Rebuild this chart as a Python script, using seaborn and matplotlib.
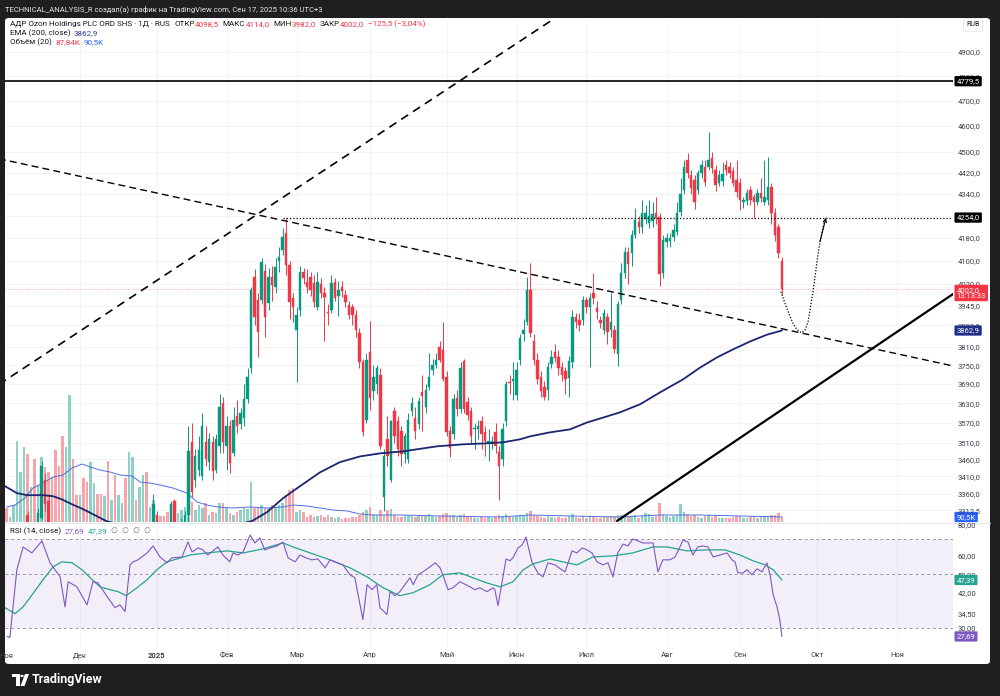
import numpy as np
import matplotlib
matplotlib.use("Agg")
import matplotlib.pyplot as plt
import seaborn as sns
from matplotlib.patches import FancyBboxPatch, Rectangle, Circle, Polygon
from matplotlib.lines import Line2D
from matplotlib.transforms import blended_transform_factory
from matplotlib.ticker import NullLocator

sns.set_style("white")
plt.rcParams['font.family'] = ['Roboto', 'DejaVu Sans']

# ---- daily bars, index 0 = 1 Nov 2024, last = 17 Sep 2025 ----
opens = [2950, 2900, 2920, 3040, 3120, 3180, 3300, 3230, 3250, 3250,
         3290, 3400, 3340, 3230, 3180, 3120, 3080, 3000, 3060, 3100,
         3040, 3000, 3040, 2990, 2960, 3050, 3060, 3040, 3020, 3030,
         2990, 3000, 2960, 2975, 2980, 2950, 3100, 3130, 3120, 3150,
         3180, 3170, 3200, 3300, 3250, 3220, 3200, 3180, 3340, 3260,
         3270, 3280, 3300, 3511, 3399, 3428, 3411, 3511, 3451, 3511,
         3430, 3499, 3630, 3500, 3560, 3480, 3590, 3565, 3586, 3642,
         3742, 4045, 3966, 3966, 4065, 3956, 4045, 4010, 4100, 4139,
         4199, 4086, 3973, 3866, 3932, 4062, 4027, 4045, 4024, 3942,
         4020, 3990, 3925, 3930, 4027, 3980, 4010, 3983, 3949, 3940,
         3916, 3856, 3760, 3580, 3794, 3667, 3690, 3720, 3350, 3520,
         3400, 3605, 3574, 3544, 3475, 3460, 3605, 3586, 3565, 3664,
         3617, 3680, 3736, 3752, 3810, 3800, 3714, 3545, 3535, 3648,
         3611, 3764, 3633, 3605, 3550, 3550, 3574, 3541, 3508, 3505,
         3541, 3481, 3460, 3574, 3698, 3700, 3655, 3768, 3850, 3892,
         4000, 3830, 3768, 3714, 3680, 3673, 3755, 3794, 3778, 3745,
         3730, 3710, 3760, 3909, 3899, 3899, 3966, 3940, 3990, 3939,
         3899, 3866, 3906, 3866, 3866, 3785, 3966, 4058, 4131, 4128,
         4192, 4238, 4220, 4250, 4235, 4240, 4271, 4257, 4058, 4167,
         4170, 4185, 4203, 4275, 4355, 4468, 4411, 4392, 4355, 4419,
         4442, 4442, 4476, 4430, 4380, 4390, 4449, 4440, 4426, 4392,
         4380, 4310, 4315, 4355, 4328, 4311, 4345, 4310, 4318, 4367,
         4271, 4220, 4098.5]
highs = [2960, 2935, 3050, 3130, 3190, 3270, 3310, 3260, 3265, 3320,
         3455, 3420, 3360, 3245, 3190, 3135, 3090, 3070, 3120, 3110,
         3050, 3050, 3045, 3000, 3060, 3075, 3065, 3050, 3040, 3035,
         3010, 3005, 2985, 2990, 2985, 3110, 3140, 3135, 3160, 3190,
         3190, 3210, 3360, 3310, 3260, 3230, 3210, 3340, 3345, 3280,
         3290, 3310, 3560, 3570, 3490, 3530, 3600, 3560, 3540, 3530,
         3535, 3660, 3650, 3590, 3580, 3620, 3640, 3615, 3690, 3740,
         4010, 4070, 3990, 4110, 4090, 4075, 4080, 4110, 4150, 4215,
         4254, 4100, 3990, 3940, 4080, 4075, 4070, 4060, 4050, 4060,
         4040, 4010, 3950, 4050, 4040, 4030, 4030, 4000, 3960, 3950,
         3930, 3870, 3770, 3790, 3895, 3750, 3750, 3740, 3490, 3590,
         3580, 3620, 3590, 3560, 3540, 3600, 3650, 3620, 3650, 3720,
         3690, 3790, 3770, 3790, 3830, 3890, 3730, 3560, 3660, 3670,
         3760, 3770, 3650, 3620, 3570, 3580, 3590, 3560, 3550, 3530,
         3570, 3500, 3570, 3700, 3720, 3760, 3760, 3850, 3900, 4045,
         4092, 3850, 3790, 3730, 3700, 3760, 3800, 3820, 3800, 3760,
         3745, 3780, 3930, 3920, 3920, 3980, 3975, 3990, 4058, 3960,
         3910, 3935, 3920, 3990, 3880, 3960, 4092, 4150, 4150, 4210,
         4289, 4260, 4318, 4300, 4320, 4310, 4330, 4270, 4190, 4200,
         4200, 4230, 4310, 4400, 4468, 4495, 4430, 4410, 4430, 4470,
         4470, 4575, 4500, 4450, 4430, 4460, 4470, 4460, 4440, 4468,
         4400, 4330, 4360, 4370, 4340, 4360, 4400, 4468, 4480, 4380,
         4290, 4230, 4114]
lows = [2880, 2880, 2910, 3030, 3100, 3170, 3220, 3200, 3220, 3240,
        3285, 3310, 3220, 3170, 3110, 3070, 2990, 2990, 3040, 3030,
        2990, 2990, 2980, 2950, 2955, 3040, 3030, 3010, 3010, 2980,
        2980, 2950, 2950, 2965, 2940, 2945, 3090, 3110, 3110, 3140,
        3160, 3160, 3195, 3240, 3210, 3190, 3170, 3175, 3250, 3250,
        3260, 3270, 3280, 3350, 3380, 3410, 3400, 3440, 3430, 3400,
        3420, 3480, 3480, 3430, 3420, 3470, 3540, 3550, 3560, 3630,
        3725, 3880, 3778, 3950, 3843, 3930, 3960, 3990, 4060, 4120,
        4050, 3900, 3890, 3698, 3910, 4020, 3990, 3980, 3940, 3930,
        3970, 3830, 3880, 3920, 3960, 3910, 3975, 3940, 3900, 3880,
        3840, 3740, 3530, 3570, 3610, 3640, 3660, 3490, 3311, 3440,
        3395, 3510, 3470, 3440, 3450, 3450, 3590, 3520, 3550, 3544,
        3600, 3670, 3720, 3740, 3760, 3700, 3530, 3466, 3520, 3590,
        3600, 3600, 3580, 3510, 3490, 3520, 3490, 3470, 3455, 3490,
        3480, 3341, 3440, 3560, 3660, 3640, 3640, 3750, 3830, 3880,
        3840, 3750, 3690, 3650, 3640, 3640, 3740, 3760, 3720, 3700,
        3660, 3650, 3740, 3870, 3860, 3880, 3920, 3745, 3950, 3900,
        3870, 3850, 3820, 3840, 3790, 3746, 3950, 4040, 4020, 4080,
        4180, 4200, 4200, 4230, 4215, 4220, 4230, 4012, 4040, 4150,
        4150, 4170, 4190, 4260, 4340, 4400, 4340, 4285, 4340, 4400,
        4370, 4430, 4420, 4350, 4370, 4370, 4410, 4400, 4370, 4330,
        4282, 4290, 4300, 4300, 4254, 4300, 4310, 4300, 4300, 4230,
        4170, 4110, 3982]
closes = [2900, 2920, 3040, 3120, 3180, 3260, 3230, 3250, 3240, 3305,
          3440, 3330, 3230, 3180, 3120, 3080, 3000, 3060, 3100, 3040,
          3000, 3040, 2990, 2960, 3050, 3060, 3040, 3020, 3030, 2990,
          3000, 2960, 2975, 2980, 2950, 3100, 3130, 3120, 3150, 3180,
          3170, 3200, 3330, 3250, 3220, 3200, 3180, 3330, 3260, 3270,
          3280, 3300, 3484, 3364, 3469, 3487, 3559, 3460, 3520, 3425,
          3520, 3620, 3511, 3560, 3450, 3580, 3560, 3600, 3642, 3714,
          4000, 3909, 3859, 4096, 3909, 4045, 4017, 4079, 4112, 4185,
          4086, 3959, 3942, 3916, 4062, 4040, 4010, 4000, 3959, 4027,
          3990, 3975, 3920, 4024, 3973, 4000, 3995, 3959, 3916, 3916,
          3866, 3760, 3541, 3768, 3648, 3714, 3740, 3500, 3470, 3470,
          3574, 3529, 3490, 3475, 3529, 3580, 3630, 3544, 3636, 3652,
          3673, 3714, 3752, 3768, 3768, 3705, 3541, 3495, 3642, 3611,
          3740, 3611, 3595, 3529, 3555, 3560, 3535, 3514, 3514, 3515,
          3500, 3440, 3550, 3689, 3692, 3705, 3736, 3839, 3866, 4000,
          3856, 3768, 3705, 3667, 3650, 3745, 3778, 3774, 3742, 3720,
          3705, 3762, 3909, 3892, 3882, 3966, 3942, 3973, 3970, 3926,
          3889, 3922, 3859, 3892, 3801, 3952, 4058, 4131, 4089, 4192,
          4246, 4220, 4271, 4271, 4260, 4268, 4253, 4054, 4174, 4182,
          4181, 4210, 4271, 4340, 4441, 4418, 4361, 4311, 4419, 4450,
          4386, 4468, 4438, 4373, 4411, 4415, 4430, 4420, 4383, 4348,
          4318, 4318, 4345, 4318, 4311, 4345, 4327, 4330, 4367, 4271,
          4192, 4128, 4002]
volumes_k = [250, 90, 300, 1460, 900, 1350, 1220, 630, 1130, 670,
             1170, 990, 900, 810, 1300, 1010, 1550, 1350, 2290, 1130,
             490, 490, 790, 720, 1080, 700, 500, 500, 470, 1100,
             400, 850, 490, 340, 790, 1260, 1170, 400, 630, 850,
             900, 270, 400, 90, 110, 110, 180, 180, 360, 160,
             220, 270, 450, 360, 220, 310, 250, 340, 130, 180,
             160, 340, 340, 250, 160, 130, 180, 220, 250, 230,
             720, 250, 270, 310, 250, 250, 310, 270, 310, 340,
             490, 580, 610, 180, 220, 180, 90, 130, 90, 110,
             130, 90, 130, 90, 70, 90, 55, 70, 70, 90,
             90, 130, 180, 220, 270, 130, 130, 220, 130, 220,
             230, 130, 90, 90, 110, 130, 110, 90, 110, 130,
             110, 140, 110, 90, 110, 150, 160, 130, 120, 90,
             130, 140, 90, 110, 80, 70, 90, 80, 90, 70,
             90, 130, 110, 140, 90, 90, 110, 120, 110, 170,
             200, 130, 110, 90, 80, 100, 90, 80, 90, 70,
             80, 100, 150, 90, 80, 110, 80, 100, 110, 70,
             80, 90, 90, 100, 90, 120, 130, 110, 100, 110,
             120, 80, 110, 160, 140, 90, 110, 340, 150, 110,
             90, 100, 120, 320, 180, 140, 110, 120, 90, 80,
             100, 120, 90, 100, 70, 80, 70, 80, 90, 100,
             110, 70, 80, 90, 100, 80, 90, 100, 110, 120,
             130, 160, 87.84]

# indicator traces: (bar index, value)
ema200 = [(-0.5, 3382), (2.9, 3362), (5.8, 3356), (10.4, 3356), (13.3, 3353), (15.8, 3344),
          (18.7, 3330), (21.9, 3316), (25.9, 3296), (28.4, 3283), (40, 3250), (52, 3248),
          (62, 3262), (70.3, 3283), (74.6, 3308), (79.1, 3347), (84, 3382), (89.7, 3422),
          (95.4, 3452), (101.2, 3469), (106.9, 3478), (113.5, 3484), (123.2, 3499), (130.7, 3505),
          (137.5, 3508), (142.1, 3511), (147, 3520), (149.9, 3529), (155.6, 3541), (161.3, 3550),
          (166.2, 3571), (170.8, 3586), (175.6, 3602), (181.4, 3627), (187.1, 3664), (193.7, 3705),
          (198.5, 3742), (203.4, 3775), (208, 3801), (212.9, 3827), (217.7, 3849), (222, 3862.9)]
vol_ma = [(0, 270), (2.4, 306), (5.2, 432), (7.5, 612), (10.4, 702), (13.3, 810), (16.1, 846),
          (18.7, 972), (21.6, 1044), (23.9, 990), (26.7, 936), (29.6, 900), (32.5, 846), (35.9, 828),
          (38.2, 720), (41, 702), (43.9, 666), (47.6, 612), (51.6, 522), (54.5, 360), (57.4, 306),
          (60.5, 270), (64.8, 252), (69.7, 270), (74.5, 252), (79.1, 270), (82, 306), (86, 288),
          (89.7, 252), (93.4, 216), (97.5, 198), (101.2, 144), (104.9, 126), (112.6, 126),
          (124, 108), (141.3, 90), (149.9, 126), (161.3, 108), (175.6, 90), (187.1, 126),
          (198.5, 126), (210, 108), (222, 90.5)]
rsi = [(0.1, 27.7), (0.9, 27.4), (2.9, 52.2), (4.7, 64.9), (7.2, 61.3), (10.1, 68.7), (12.4, 55.8),
       (15.3, 48.8), (16.7, 36.7), (17.6, 46.6), (20.1, 44.4), (23.0, 37.4), (24.7, 46.6), (26.1, 46.1),
       (29.0, 40.0), (31.0, 36.4), (32.4, 37.4), (33.9, 35.1), (35.3, 54.7), (36.2, 56.3), (37.6, 57.4),
       (40.2, 61.3), (41.9, 65.5), (43.9, 59.0), (45.9, 55.8), (47.3, 58.5), (50.2, 59.0), (51.9, 68.0),
       (53.1, 61.9), (54.8, 64.3), (56.2, 63.1), (57.6, 60.1), (59.1, 62.5), (60.5, 64.9), (61.9, 60.1),
       (63.9, 56.3), (64.8, 61.3), (66.2, 60.1), (67.7, 61.9), (69.7, 72.7), (71.1, 67.4), (72.5, 70.7),
       (73.9, 63.1), (75.4, 64.3), (77.4, 65.5), (79.1, 68.0), (80.6, 58.5), (82.6, 56.3), (84.0, 60.1),
       (85.7, 58.5), (87.4, 57.4), (89.1, 57.9), (91.2, 53.2), (92.6, 57.4), (94.6, 55.8), (96.3, 54.7),
       (98.3, 49.8), (99.7, 48.4), (102.0, 32.5), (103.2, 45.3), (104.6, 43.2), (106.0, 45.3),
       (106.9, 36.4), (108.9, 34.1), (109.8, 42.4), (111.2, 40.8), (112.6, 42.4), (114.0, 45.3),
       (115.5, 48.4), (116.4, 45.3), (117.8, 49.8), (119.2, 51.2), (121.2, 53.7), (122.7, 55.8),
       (124.1, 53.2), (124.9, 49.8), (126.4, 43.2), (127.8, 44.0), (129.8, 46.6), (132.7, 44.4),
       (134.1, 43.2), (135.5, 44.0), (137.5, 42.4), (139.3, 44.0), (139.8, 43.2), (140.7, 37.1),
       (143.0, 57.9), (144.1, 56.9), (145.0, 58.5), (146.4, 64.3), (147.6, 66.1), (148.7, 71.3),
       (150.4, 56.3), (152.1, 50.7), (153.6, 48.8), (155.0, 55.8), (157.0, 54.7), (159.0, 52.2),
       (159.9, 51.2), (161.9, 62.5), (163.3, 61.3), (164.8, 64.3), (166.2, 63.1), (167.6, 61.3),
       (169.1, 56.3), (170.8, 54.7), (172.2, 55.8), (173.6, 48.8), (175.0, 61.3), (176.5, 66.7),
       (177.9, 65.5), (179.3, 70.0), (180.8, 68.7), (182.2, 67.4), (183.7, 67.4), (185.1, 67.4),
       (186.5, 51.2), (187.9, 57.4), (189.9, 57.4), (191.4, 59.0), (192.8, 64.9), (193.7, 69.3),
       (195.1, 68.0), (196.5, 60.1), (197.9, 64.9), (199.4, 65.5), (200.8, 64.9), (202.3, 59.0),
       (204.3, 60.1), (206.3, 61.3), (207.7, 57.4), (208.6, 56.3), (209.4, 50.7), (210.9, 50.7),
       (212.0, 52.2), (213.4, 49.8), (214.9, 52.7), (216.3, 51.2), (217.7, 55.8), (218.6, 49.8),
       (219.5, 41.2), (220.6, 36.7), (221.4, 32.5), (222.0, 27.69)]
rsi_ma = [(-0.5, 36.4), (2.4, 34.4), (4.7, 36.7), (7.5, 41.6), (10.4, 47.5), (13.3, 53.7), (15.8, 56.3),
          (18.7, 55.8), (21.6, 52.2), (23.9, 48.4), (26.7, 44.4), (29.6, 43.2), (31.9, 42.4), (34.2, 40.8),
          (37.3, 44.0), (40.2, 47.5), (43.0, 52.2), (45.9, 56.3), (48.8, 57.9), (52.5, 60.1), (57.4, 61.3),
          (63.1, 62.5), (67.7, 61.3), (73.4, 63.7), (79.1, 67.4), (82.0, 64.9), (86.9, 61.3), (92.6, 57.4),
          (98.3, 53.2), (103.2, 48.8), (107.8, 44.0), (112.6, 40.8), (116.4, 42.0), (121.2, 45.3),
          (124.9, 49.8), (129.8, 50.7), (133.5, 48.4), (137.5, 46.1), (141.3, 44.4), (145.0, 46.6),
          (147.9, 52.2), (150.7, 55.2), (155.6, 57.9), (160.5, 55.8), (163.3, 54.7), (167.9, 59.0),
          (173.6, 59.6), (179.3, 61.3), (185.1, 64.9), (189.1, 64.9), (194.8, 62.5), (200.5, 63.1),
          (205.7, 63.1), (210.0, 60.1), (213.7, 56.9), (217.2, 54.7), (219.5, 52.2), (222.0, 47.39)]

# hand-drawn lines on the chart
level_solid = 4779.5
level_target = 4254.0
target_from = 79
steep_line = [(0, 3705), (150, 4975)]
falling_line = [(10, 4438), (250, 3799)]
rising_line = [(174.8, 3283), (271, 3985)]
projection = [(221.7, 3993), (222.8, 3956), (224.0, 3919), (225.2, 3886), (226.3, 3866),
              (227.5, 3856), (228.6, 3863), (229.5, 3892), (230.3, 3949), (231.2, 4017),
              (232.0, 4093), (232.9, 4167), (233.8, 4220), (234.6, 4253)]

month_pos = [21, 43, 63, 83, 104, 126, 146, 166, 189, 210, 232, 255]
month_labels = ['Дек', '2025', 'Фев', 'Мар', 'Апр', 'Май', 'Июн', 'Июл', 'Авг', 'Сен', 'Окт', 'Ноя']
price_ticks = [3312.5, 3360, 3410, 3460, 3510, 3570, 3630, 3690, 3750, 3810, 3880, 3945,
               4020, 4100, 4180, 4260, 4340, 4420, 4500, 4600, 4700, 4800, 4900]
rsi_ticks = [80, 60, 50, 42, 34.5, 30]

# ---- styling ----
W, H = 1000, 696
BG = '#1f1f1f'
DARK = '#131722'
AXIS_TXT = '#3b3f4a'
GRID = '#f2f3f6'
UP, DOWN = '#089981', '#f23645'
EMA_C = '#1c2570'
VMA_C = '#4f6fe0'
RSI_C = '#7e57c2'
RSI_MA_C = '#23a48e'
XLIM = (-0.49, 271.0)
PRICE_LIM = (3280, 5036)
RSI_LIM = (24.8, 81.5)
VOL_TOP = 9036


def fx(px):
    return px / W


def fy(py):
    return 1 - py / H


fig = plt.figure(figsize=(W / 100, H / 100), dpi=100, facecolor=BG)
panel = FancyBboxPatch((fx(5), fy(664)), fx(990) - fx(5), fy(18) - fy(664),
                       boxstyle='round,pad=0,rounding_size=0.004',
                       transform=fig.transFigure, fc='white', ec='none', zorder=0)
fig.patches.append(panel)

L, R = 5, 953
rect_main = [fx(L), fy(522), fx(R) - fx(L), (522 - 20) / H]
rect_rsi = [fx(L), fy(648), fx(R) - fx(L), (648 - 523) / H]

ax_grid = fig.add_axes(rect_main, zorder=1, label='grid')
ax_vol = fig.add_axes(rect_main, zorder=2, label='vol')
ax = fig.add_axes(rect_main, zorder=3, label='main')
ax_rsi = fig.add_axes(rect_rsi, zorder=3, label='rsi')

# grid layer
ax_grid.set_yscale('log')
ax_grid.set_xlim(XLIM)
ax_grid.set_ylim(PRICE_LIM)
for p in price_ticks:
    ax_grid.axhline(p, color=GRID, lw=0.6)
for m in month_pos:
    ax_grid.axvline(m, color=GRID, lw=0.6)
ax_grid.set_axis_off()

idx = np.arange(len(closes))
o = np.array(opens, float)
c = np.array(closes, float)
hi = np.array(highs, float)
lo = np.array(lows, float)
up = c >= o

# volume layer
vol_cols = [(8 / 255, 153 / 255, 129 / 255, 0.45) if u else (242 / 255, 54 / 255, 69 / 255, 0.45) for u in up]
ax_vol.bar(idx, volumes_k, width=0.72, color=vol_cols, linewidth=0)
vx, vy = zip(*vol_ma)
sns.lineplot(x=list(vx), y=list(vy), ax=ax_vol, color=VMA_C, linewidth=0.7, estimator=None, sort=False)
ax_vol.set_xlim(XLIM)
ax_vol.set_ylim(0, VOL_TOP)
ax_vol.set_axis_off()

# price layer
ax.set_yscale('log')
cols = np.where(up, UP, DOWN)
ax.vlines(idx, lo, hi, colors=cols, linewidth=0.7, zorder=3)
ax.bar(idx, np.abs(c - o), bottom=np.minimum(o, c), width=0.7, color=cols,
       edgecolor=cols, linewidth=0.3, zorder=4)
ex, ey = zip(*ema200)
sns.lineplot(x=list(ex), y=list(ey), ax=ax, color=EMA_C, linewidth=1.3, estimator=None, sort=False, zorder=5)


def ray(points, x0=-5, x1=290):
    (xa, pa), (xb, pb) = points
    xs = np.array([x0, x1])
    return xs, np.exp(np.log(pa) + (np.log(pb) - np.log(pa)) * (xs - xa) / (xb - xa))


xs, ys = ray(steep_line)
ax.plot(xs, ys, color='black', lw=1.2, ls=(0, (5, 3.5)), zorder=6)
xs, ys = ray(falling_line)
ax.plot(xs, ys, color='black', lw=1.0, ls=(0, (5, 3)), zorder=6)
xs, ys = ray(rising_line, x0=rising_line[0][0])
ax.plot(xs, ys, color='black', lw=1.6, zorder=6)
ax.axhline(level_solid, color='black', lw=1.2, zorder=6)
ax.plot([target_from, 290], [level_target] * 2, color='black', lw=0.9, ls=(0, (1, 1.6)), zorder=6)
ax.axhline(closes[-1], color=DOWN, lw=0.6, ls=(0, (1, 2)), alpha=0.55, zorder=2)
px_, py_ = zip(*projection)
ax.plot(px_, py_, color='black', lw=0.9, ls=(0, (1, 1.4)), zorder=6)
ax.annotate('', xy=projection[-1], xytext=projection[-3],
            arrowprops=dict(arrowstyle='->', lw=0.8, color='black', shrinkA=0, shrinkB=0,
                            mutation_scale=6), zorder=7)

ax.set_xlim(XLIM)
ax.set_ylim(PRICE_LIM)
ax.patch.set_visible(False)
for s in ax.spines.values():
    s.set_visible(False)
ax.yaxis.tick_right()
ax.set_yticks(price_ticks)
ax.set_yticklabels([f'{p:.1f}'.replace('.', ',') for p in price_ticks])
ax.yaxis.set_minor_locator(NullLocator())
ax.set_xticks([])
ax.tick_params(axis='y', length=0, pad=3.5, labelsize=5.5, labelcolor=AXIS_TXT)
ax.set_xlabel('')
ax.set_ylabel('')

# RSI pane
ax_rsi.set_yscale('log')
ax_rsi.set_xlim(XLIM)
ax_rsi.set_ylim(RSI_LIM)
for m in month_pos:
    ax_rsi.axvline(m, color=GRID, lw=0.6, zorder=0)
ax_rsi.axhspan(30, 70, color=RSI_C, alpha=0.09, lw=0, zorder=0)
for lvl in (70, 50, 30):
    ax_rsi.axhline(lvl, color='#9598a1', lw=0.7, ls=(0, (3, 3)), zorder=1)
rx, ry = zip(*rsi_ma)
sns.lineplot(x=list(rx), y=list(ry), ax=ax_rsi, color=RSI_MA_C, linewidth=0.9, estimator=None, sort=False)
rx, ry = zip(*rsi)
sns.lineplot(x=list(rx), y=list(ry), ax=ax_rsi, color=RSI_C, linewidth=0.8, estimator=None, sort=False)
ax_rsi.patch.set_visible(False)
for s in ax_rsi.spines.values():
    s.set_visible(False)
ax_rsi.yaxis.tick_right()
ax_rsi.set_yticks(rsi_ticks)
ax_rsi.set_yticklabels([f'{v:.2f}'.replace('.', ',') for v in rsi_ticks])
ax_rsi.yaxis.set_minor_locator(NullLocator())
ax_rsi.set_xticks(month_pos)
ax_rsi.set_xticklabels(month_labels)
ax_rsi.tick_params(axis='both', length=0, labelsize=5.5, labelcolor=AXIS_TXT)
ax_rsi.tick_params(axis='y', pad=3.5)
ax_rsi.tick_params(axis='x', pad=3)
for t in ax_rsi.get_xticklabels():
    if t.get_text() == '2025':
        t.set_fontweight('bold')
ax_rsi.set_xlabel('')
ax_rsi.set_ylabel('')

nov = fig.text(fx(6.7), fy(655.5), 'Ноя', ha='center', va='center', fontsize=5.5, color=AXIS_TXT)
nov.set_clip_path(panel)

fig.add_artist(Line2D([fx(5), fx(990)], [fy(522.5)] * 2, color='#e6e8ee', lw=0.8))


# price tags on the right scale
def tag(a, yv, text, fc, dy=0.0, tc='white'):
    a.annotate(text, xy=(1, yv), xycoords=blended_transform_factory(a.transAxes, a.transData),
               xytext=(2.6, dy), textcoords='offset points', ha='left', va='center',
               fontsize=5.5, color=tc, linespacing=1.05, annotation_clip=False, zorder=20,
               bbox=dict(boxstyle='round,pad=0.28,rounding_size=0.15', fc=fc, ec='none'))


tag(ax, level_solid, '4779,5', '#000000')
tag(ax, level_target, '4254,0', '#000000')
tag(ax, closes[-1], '4002,0\n13:13:33', DOWN, dy=-2.8)
tag(ax, ema200[-1][1], '3862,9', '#1f2e86')
tag(ax_vol, vol_ma[-1][1], '90,5K', '#2962ff')
tag(ax_rsi, rsi_ma[-1][1], '47,39', RSI_MA_C)
tag(ax_rsi, rsi[-1][1], '27,69', RSI_C)

fig.text(fx(973), fy(25), 'RUB', ha='center', va='center', fontsize=5, color=DARK,
         bbox=dict(boxstyle='round,pad=0.4,rounding_size=0.2', fc='white', ec='#e0e3eb', lw=0.6))

# legend rows
renderer = fig.canvas.get_renderer()


def row(x_px, y_px, parts, size=5.8):
    x = x_px
    for text, col, gap in parts:
        t = fig.text(fx(x), fy(y_px), text, color=col, fontsize=size, ha='left', va='center', zorder=30)
        x = t.get_window_extent(renderer=renderer).x1 + gap


row(5, 9, [('TECHNICAL_ANALYSIS_R создал(а) график на TradingView.com, Сен 17, 2025 10:36 UTC+3', '#e8e8e8', 0)], size=5.5)
row(10, 24, [('АДР Ozon Holdings PLC ORD SHS · 1Д · RUS', DARK, 4.5),
             ('ОТКР', DARK, 0.3), ('4098,5', DOWN, 3.5),
             ('МАКС', DARK, 0.3), ('4114,0', DOWN, 3.5),
             ('МИН', DARK, 0.3), ('3982,0', DOWN, 3.5),
             ('ЗАКР', DARK, 0.3), ('4002,0', DOWN, 3.5),
             ('−125,5 (−3,04%)', DOWN, 0)])
row(10, 33, [('EMA (200, close)', DARK, 3.5), ('3862,9', '#2a3d9c', 0)])
row(10, 42, [('Объём (20)', DARK, 3.5), ('87,84K', DOWN, 3.5), ('90,5K', '#2962ff', 0)])
row(10, 531, [('RSI (14, close)', DARK, 3.5), ('27,69', RSI_C, 3.5), ('47,39', RSI_MA_C, 3.5),
              ('∅  ∅  ∅  ∅', '#787b86', 0)])

# TradingView mark
fig.patches.append(Rectangle((fx(12), fy(677)), fx(7.5), 3 / H, transform=fig.transFigure, fc='white', ec='none'))
fig.patches.append(Rectangle((fx(16), fy(686)), fx(3.5), 12 / H, transform=fig.transFigure, fc='white', ec='none'))
fig.patches.append(Circle((fx(22), fy(676)), fx(1.7), transform=fig.transFigure, fc='white', ec='none'))
fig.patches.append(Polygon([(fx(25), fy(674)), (fx(29), fy(674)), (fx(24.5), fy(686)), (fx(20.5), fy(686))],
                           closed=True, transform=fig.transFigure, fc='white', ec='none'))
fig.text(fx(32), fy(680), 'TradingView', color='white', fontsize=9, fontweight='bold', ha='left', va='center')

fig.savefig('out.png', dpi=100, facecolor=fig.get_facecolor())
